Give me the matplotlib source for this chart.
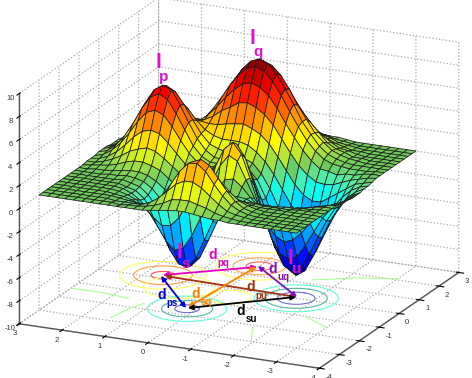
import numpy as np
import matplotlib
matplotlib.use("Agg")
import matplotlib.pyplot as plt
from matplotlib.colors import LinearSegmentedColormap

plt.rcParams['font.family'] = ['Liberation Sans', 'DejaVu Sans']
plt.rcParams['axes.unicode_minus'] = False
plt.rcParams['grid.color'] = '#a8a8a8'
plt.rcParams['grid.linestyle'] = ':'
plt.rcParams['grid.linewidth'] = 0.9

# heights, rows go y=-3..3, columns x=-3..3
surface_z = [
[0,0,0,0,0,0,0,0,0,0,0,-.1,-.2,-.2,-.3,-.3,-.3,-.2,-.2,-.1,0,0,0,0,0,0,0,0,0,0,0],
[0,0,0,0,0,0,0,0,0,0,-.1,-.3,-.4,-.6,-.7,-.7,-.7,-.6,-.4,-.3,-.1,0,0,0,0,0,0,0,0,0,0],
[0,0,0,0,0,0,0,0,-.1,-.1,-.3,-.5,-.8,-1.2,-1.4,-1.5,-1.4,-1.2,-.8,-.5,-.3,-.1,-.1,0,0,0,0,0,0,0,0],
[0,0,0,0,0,0,0,0,-.1,-.3,-.5,-1,-1.5,-2.1,-2.6,-2.8,-2.6,-2.1,-1.5,-1,-.5,-.3,-.1,0,0,0,0,0,0,0,0],
[0,0,0,0,0,0,0,-.1,-.2,-.4,-.8,-1.5,-2.4,-3.4,-4.1,-4.4,-4.1,-3.4,-2.4,-1.5,-.8,-.3,-.1,0,.1,.1,0,0,0,0,0],
[0,0,0,0,0,0,0,-.1,-.2,-.6,-1.2,-2.1,-3.4,-4.7,-5.7,-6.1,-5.7,-4.7,-3.4,-2,-1.1,-.5,0,.1,.2,.1,.1,.1,0,0,0],
[0,0,0,0,0,0,0,-.1,-.3,-.7,-1.4,-2.6,-4.1,-5.8,-7,-7.5,-7,-5.7,-4,-2.5,-1.2,-.3,.1,.3,.4,.4,.3,.1,.1,0,0],
[0,0,.1,.1,.1,.1,0,-.1,-.3,-.7,-1.5,-2.8,-4.4,-6.1,-7.5,-8,-7.5,-6,-4.3,-2.5,-1.1,-.2,.4,.6,.7,.6,.4,.3,.2,.1,0],
[0,.1,.2,.3,.3,.3,.1,0,-.3,-.7,-1.4,-2.5,-4,-5.7,-7,-7.5,-7,-5.6,-3.8,-2.1,-.6,.4,1,1.2,1.3,1,.8,.5,.3,.2,.1],
[.1,.2,.4,.7,.8,.6,.3,0,-.3,-.6,-1.1,-1.9,-3.1,-4.4,-5.6,-6,-5.5,-4.5,-2.8,-1.3,.1,1.2,1.8,2.1,2,1.8,1.3,.8,.6,.3,.2],
[.1,.4,.9,1.4,1.6,1.2,.5,0,-.3,-.3,-.4,-.7,-1.5,-2.5,-3.5,-4,-3.8,-2.9,-1.6,-.2,1.1,2.2,2.9,3.1,3.1,2.6,1.9,1.3,.8,.5,.2],
[.2,.7,1.5,2.3,2.6,1.9,.7,-.2,-.5,-.2,.4,.8,.7,-.1,-1.2,-1.9,-2,-1.4,-.4,.9,2.2,3.3,4.1,4.5,4.2,3.5,2.7,1.9,1.1,.6,.3],
[.3,.9,2.1,3.3,3.6,2.4,.5,-.9,-1.1,-.3,1,2.3,2.7,2.1,.9,-.2,-.5,-.2,.6,1.9,3.3,4.5,5.4,5.7,5.5,4.6,3.6,2.4,1.4,.8,.4],
[.4,1.1,2.5,3.9,4,2.3,-.3,-2.1,-2.4,-1.2,.8,2.7,3.6,3.2,2,.9,.3,.6,1.3,2.6,4.1,5.5,6.5,6.9,6.6,5.5,4.2,2.8,1.7,1,.4],
[.4,1.1,2.5,3.8,3.7,1.4,-1.7,-3.8,-4.1,-2.6,-.4,1.7,2.9,2.9,2,1.1,.7,.9,1.8,3,4.6,6.1,7.3,7.7,7.3,6.2,4.7,3.1,1.9,1,.5],
[.3,1,2.1,3,2.4,-.1,-3.3,-5.5,-5.7,-4.2,-2,.1,1.3,1.6,1.3,.8,.7,1.1,2,3.3,4.9,6.4,7.6,8,7.6,6.4,4.9,3.3,2,1.1,.5],
[.2,.6,1.4,1.8,.9,-1.6,-4.5,-6.4,-6.5,-5,-3,-1.2,.1,.6,.7,.7,.8,1.2,2,3.2,4.8,6.2,7.3,7.7,7.3,6.2,4.7,3.1,1.9,1,.5],
[.1,.3,.7,.7,-.3,-2.4,-4.8,-6.2,-6.1,-4.9,-3.2,-1.6,-.5,.2,.5,.7,.9,1.4,2,3.1,4.3,5.6,6.6,6.9,6.6,5.5,4.2,2.8,1.7,1,.4],
[0,.1,.2,0,-.9,-2.5,-4.1,-5.1,-4.9,-3.9,-2.5,-1.3,-.4,.3,.8,1.1,1.4,1.7,2.2,2.9,3.9,4.8,5.6,5.8,5.5,4.6,3.6,2.4,1.4,.8,.4],
[0,0,-.1,-.3,-.9,-1.9,-2.9,-3.5,-3.3,-2.6,-1.6,-.7,.1,.8,1.5,1.9,2.3,2.5,2.6,2.9,3.3,3.9,4.4,4.5,4.2,3.5,2.7,1.9,1.1,.6,.3],
[0,0,-.1,-.3,-.7,-1.2,-1.8,-2,-1.9,-1.4,-.8,-.1,.7,1.6,2.5,3.2,3.6,3.6,3.3,3,2.9,3.1,3.3,3.3,3.1,2.6,1.9,1.3,.8,.5,.2],
[0,-.1,-.1,-.2,-.4,-.6,-.9,-1,-.9,-.6,-.2,.5,1.3,2.4,3.6,4.5,5,4.8,4.2,3.3,2.8,2.5,2.4,2.3,2.1,1.8,1.3,.8,.6,.3,.2],
[0,0,-.1,-.1,-.2,-.3,-.4,-.4,-.3,-.1,.2,.8,1.8,3.1,4.5,5.6,6.2,5.8,4.8,3.6,2.7,2,1.7,1.5,1.4,1.1,.8,.5,.3,.2,.1],
[0,0,0,0,-.1,-.1,-.1,-.2,-.1,.1,.4,1,2,3.3,4.8,6,6.5,6.2,5,3.6,2.4,1.6,1.2,.9,.8,.6,.4,.3,.2,.1,0],
[0,0,0,0,0,0,0,0,.1,.2,.4,1,1.8,3.1,4.5,5.6,6,5.6,4.6,3.2,2.1,1.3,.8,.6,.4,.4,.3,.1,.1,0,0],
[0,0,0,0,0,0,0,0,0,.1,.3,.8,1.5,2.5,3.6,4.5,4.8,4.5,3.6,2.6,1.6,.9,.5,.4,.3,.1,.1,0,0,0,0],
[0,0,0,0,0,0,0,0,0,.1,.2,.5,1,1.7,2.5,3.1,3.3,3.1,2.5,1.7,1,.6,.3,.2,.1,.1,0,0,0,0,0],
[0,0,0,0,0,0,0,0,0,0,.1,.3,.6,1,1.5,1.9,2,1.9,1.5,1,.6,.3,.1,.1,0,0,0,0,0,0,0],
[0,0,0,0,0,0,0,0,0,0,.1,.2,.3,.5,.8,1,1,1,.8,.5,.3,.2,.1,0,0,0,0,0,0,0,0],
[0,0,0,0,0,0,0,0,0,0,0,.1,.1,.2,.3,.4,.5,.4,.3,.2,.1,.1,0,0,0,0,0,0,0,0,0],
[0,0,0,0,0,0,0,0,0,0,0,0,.1,.1,.1,.2,.2,.2,.1,.1,.1,0,0,0,0,0,0,0,0,0,0],
]
grid_x = [-3 + 0.2 * i for i in range(31)]
grid_y = [-3 + 0.2 * i for i in range(31)]

x_ticks = [-4, -3, -2, -1, 0, 1, 2, 3]
y_ticks = [-4, -3, -2, -1, 0, 1, 2, 3]
z_ticks = [-10, -8, -6, -4, -2, 0, 2, 4, 6, 8, 10]

# jet, but the flat sheet around zero is the olive green of the picture
map_stops = [0, .125, .375, .47, .5, .53, .625, .75, .875, 1]
map_colors = ['#00008f', '#0000ff', '#00ffff', '#60e898', '#6cc85c', '#8ed850',
              '#ffff00', '#ff8000', '#ff0000', '#800000']

# floor contour rings: centre x, centre y, radius, colour
ring_x = [.2, .2, .2, 1.6, 1.6, 1.6, -1.6, -1.6, -1.6, 0, 0, 0, -.52, -.38]
ring_y = [1.6, 1.6, 1.6, 0, 0, 0, .2, .2, .2, -1.6, -1.6, -1.6, -.3, .96]
ring_r = [.25, .62, .92, .28, .56, .92, .26, .54, .84, .40, .66, .89, .45, .75]
ring_colors = ['#ff5050', '#ffa040', '#ffff60', '#ff6060', '#ffa850', '#ffff60',
               '#6a70d0', '#50b8a0', '#60ffd8', '#6a70d0', '#50b8a0', '#60ffd8',
               '#ffff60', '#ffff70']

# the pale green far-field contour pieces
green_lines_x = [[-1.40, -1.38, -1.5], [-2.80, -2.17, -1.66], [1.24, 1.75, 2.07], [-1.04, -1.47], [-2.13, -3.0]]
green_lines_y = [[2.98, 2.30, 1.62], [1.42, 1.32, 1.18], [-1.39, -2.16, -2.98], [-2.32, -2.97], [-1.57, -1.95]]

# overlay annotations, in picture pixels
arrow_starts = [(163, 275), (165, 276), (161, 276), (188, 307), (188, 308), (258, 266)]
arrow_ends = [(257, 267), (297, 297), (186, 308), (256, 267), (296, 297), (297, 297)]
arrow_colors = ['#e000c0', '#a03010', '#0000d8', '#ff8000', '#000000', '#8010c0']

big_labels = ['l', 'p', 'l', 'q', 'l', 's', 'l', 'u']
big_x = [158, 164, 252, 258, 179, 186, 290, 297]
big_y = [63, 77, 38, 52, 253, 264, 258, 269]
big_sizes = [15, 11, 15, 11, 15, 11, 15, 11]

d_labels = ['d', 'pq', 'd', 'uq', 'd', 'pu', 'd', 'sq', 'd', 'ps', 'd', 'su']
d_x = [213, 223, 273, 283, 251, 261, 196, 206, 162, 172, 241, 251]
d_y = [255, 263, 269, 277, 287, 296, 294, 302, 295, 303, 311, 319]
d_colors = ['#e000c0', '#e000c0', '#8010c0', '#8010c0', '#a03010', '#a03010',
            '#ff8000', '#ff8000', '#0000d8', '#0000d8', '#000000', '#000000']


def draw_chart():
    fig = plt.figure(figsize=(4.72, 3.78), dpi=100)
    size = 400
    ax = fig.add_axes([33.6 / 472, -10.4 / 378, size / 472, size / 378],
                      projection='3d', computed_zorder=False)
    ax.set_proj_type('ortho')
    ax.view_init(elev=18.6, azim=-155.1)
    ax.set_box_aspect((1, 1, 0.734), zoom=512 / size)
    ax.patch.set_alpha(0)

    ax.set_xlim(-4, 3, view_margin=0)
    ax.set_ylim(-4, 3, view_margin=0)
    ax.set_zlim(-10, 10, view_margin=0)
    ax.set_xticks(x_ticks)
    ax.set_yticks(y_ticks)
    ax.set_zticks(z_ticks)
    ax.tick_params(labelsize=5.5, labelcolor='#333333', pad=-5)
    # pushes the two floor scales apart at the front corner
    for label in ax.get_xticklabels():
        label.set_ha('left')
    for label in ax.get_yticklabels():
        label.set_ha('right')

    for axis in (ax.xaxis, ax.yaxis, ax.zaxis):
        axis.set_pane_color((1, 1, 1, 0))
        axis.pane.set_edgecolor((1, 1, 1, 0))
        axis.line.set_color('#555555')
        axis.line.set_linewidth(1.0)
        axis._axinfo['tick']['color'] = '#555555'

    t = np.linspace(0, 2 * np.pi, 60)
    for cx, cy, r, c in zip(ring_x, ring_y, ring_r, ring_colors):
        ax.plot(cx + r * np.cos(t), cy + r * np.sin(t), -10, color=c, lw=0.8, zorder=1)
    for lx, ly in zip(green_lines_x, green_lines_y):
        ax.plot(lx, ly, -10, color='#a8ff90', lw=0.8, zorder=1)

    surface_map = LinearSegmentedColormap.from_list('sheet_jet', list(zip(map_stops, map_colors)))
    X, Y = np.meshgrid(grid_x, grid_y)
    Z = np.array(surface_z, dtype=float)
    ax.plot_surface(X, Y, Z, rstride=1, cstride=1, cmap=surface_map, vmin=-8, vmax=8,
                    edgecolor='#1c1c1c', linewidth=0.55, shade=False, zorder=2)

    # flat layer in picture pixels for the hand-made notes
    top = fig.add_axes([0, 0, 1, 1])
    top.set_xlim(0, 472)
    top.set_ylim(378, 0)
    top.axis('off')
    for s, e, c in zip(arrow_starts, arrow_ends, arrow_colors):
        top.annotate('', xy=e, xytext=s,
                     arrowprops=dict(arrowstyle='<|-|>', color=c, lw=1.3, mutation_scale=7,
                                     shrinkA=0, shrinkB=0))
    for txt, x, y, fs in zip(big_labels, big_x, big_y, big_sizes):
        top.text(x, y, txt, color='#e010d0', fontsize=fs, fontweight='bold', ha='center', va='center')
    for i, (txt, x, y, c) in enumerate(zip(d_labels, d_x, d_y, d_colors)):
        fs = 10 if i % 2 == 0 else 7
        top.text(x, y, txt, color=c, fontsize=fs, fontweight='bold', ha='center', va='center')

    fig.savefig('out.png', dpi=100)


if __name__ == "__main__":
    draw_chart()
